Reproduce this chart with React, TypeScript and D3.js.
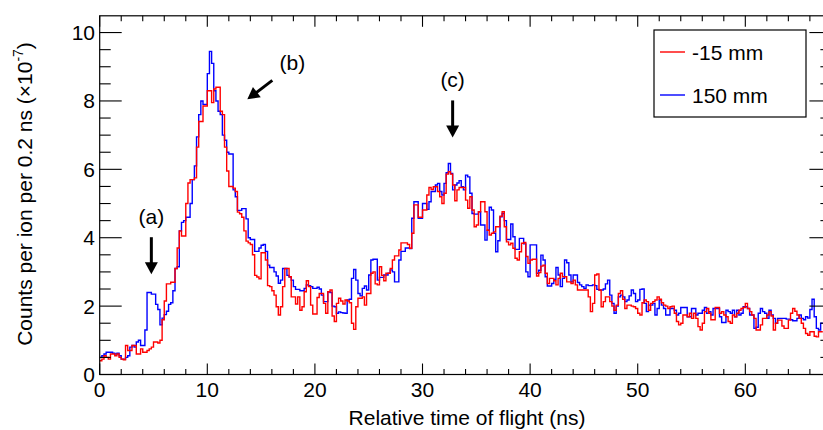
import React from "react";
import * as d3 from "d3";

// ---- data (0.2 ns bins starting at 0 ns) ----
const BIN_WIDTH = 0.2;

const seriesNames = ["-15 mm", "150 mm"];
const seriesColors = ["#ff0000", "#0000ff"];

// 150 mm (blue)
const counts150 = [
  0.5, 0.55, 0.6, 0.65, 0.65, 0.65, 0.62, 0.6, 0.62, 0.55,
  0.45, 0.45, 0.5, 0.55, 0.8, 0.85, 0.8, 0.95, 1.0, 0.85,
  0.85, 1.3, 2.4, 2.4, 2.35, 2.35, 2.05, 1.9, 1.45, 1.65,
  1.75, 1.85, 2.05, 2.1, 2.45, 3.1, 3.15, 4.2, 4.45, 4.5,
  4.6, 4.6, 5.0, 5.7, 6.1, 6.95, 7.6, 8.0, 7.9, 7.9,
  8.8, 9.45, 9.1, 8.3, 8.0, 7.7, 7.6, 7.0, 6.85, 6.5,
  6.45, 6.45, 5.4, 5.2, 4.8, 4.8, 4.85, 4.85, 4.55, 4.0,
  3.95, 3.95, 3.6, 3.6, 3.7, 3.78, 3.8, 3.6, 3.2, 3.13,
  3.13, 3.0, 2.88, 2.67, 2.76, 3.1, 3.1, 2.9, 2.85, 2.76,
  2.57, 2.49, 2.49, 2.45, 2.45, 2.52, 2.62, 2.6, 2.57, 2.52,
  2.52, 2.55, 2.5, 2.32, 2.13, 2.13, 2.42, 2.4, 2.0, 1.98,
  1.79, 1.83, 1.81, 1.8, 1.79, 2.18, 2.2, 2.81, 3.07, 2.76,
  2.37, 2.3, 2.52, 2.59, 2.47, 2.91, 3.35, 3.37, 3.37, 2.76,
  2.84, 2.84, 2.91, 2.91, 2.96, 3.06, 3.0, 2.71, 2.71, 3.35,
  3.6, 3.6, 3.7, 3.7, 3.68, 4.57, 5.05, 5.05, 4.57, 4.57,
  5.0, 5.0, 4.83, 5.05, 5.35, 5.35, 5.54, 5.59, 5.35, 5.25,
  5.59, 5.9, 6.17, 5.88, 5.4, 5.54, 5.6, 5.67, 5.49, 5.4,
  5.83, 5.78, 5.3, 4.71, 4.69, 4.69, 4.76, 4.37, 4.37, 3.93,
  4.22, 4.89, 4.81, 4.13, 3.59, 3.91, 4.61, 4.71, 4.5, 3.95,
  3.95, 4.4, 4.03, 3.66, 3.66, 3.98, 3.98, 3.82, 3.0, 2.86,
  3.79, 3.79, 3.79, 2.96, 3.05, 3.49, 3.35, 2.86, 2.59, 2.59,
  2.66, 2.78, 3.13, 2.91, 2.57, 2.81, 3.35, 3.27, 2.91, 2.71,
  2.91, 2.91, 2.69, 2.62, 2.57, 2.52, 2.62, 2.6, 2.6, 2.62,
  2.6, 2.49, 2.47, 2.47, 2.5, 2.65, 2.76, 2.32, 2.08, 1.79,
  2.0, 2.27, 2.32, 2.27, 2.13, 2.18, 2.3, 2.47, 2.37, 2.13,
  2.18, 2.49, 2.5, 2.08, 1.84, 2.03, 2.03, 2.08, 1.74, 1.93,
  2.18, 2.03, 1.93, 1.74, 1.74, 1.93, 1.93, 1.88, 1.74, 1.79,
  1.96, 1.96, 1.96, 1.69, 1.69, 1.93, 1.93, 1.74, 1.79, 1.79,
  1.88, 1.96, 1.79, 1.84, 1.74, 1.93, 1.93, 1.93, 1.69, 1.52,
  1.52, 1.88, 1.84, 1.79, 1.88, 1.69, 1.88, 1.74, 1.79, 1.98,
  1.98, 1.93, 1.74, 1.74, 1.35, 1.38, 1.79, 1.93, 1.84, 1.79,
  1.64, 1.88, 1.74, 1.64, 1.5, 1.64, 1.64, 1.64, 1.64, 1.62,
  1.62, 1.6, 1.57, 1.57, 1.64, 1.74, 1.64, 1.6, 1.69, 1.65,
  1.9, 2.2, 1.69, 1.35, 1.3, 1.5,
];

// -15 mm (red)
const countsMinus15 = [
  0.4, 0.45, 0.55, 0.5, 0.45, 0.6, 0.6, 0.55, 0.6, 0.5,
  0.45, 0.43, 0.85, 0.7, 0.7, 0.85, 0.85, 0.6, 0.6, 0.75,
  0.65, 0.65, 0.7, 0.75, 0.8, 0.95, 0.95, 0.92, 1.0, 1.6,
  2.15, 2.65, 2.65, 2.7, 2.7, 3.1, 3.7, 4.2, 4.05, 4.05,
  5.0, 5.6, 5.7, 5.7, 5.75, 6.65, 7.4, 7.4, 7.85, 7.85,
  8.3, 8.3, 7.95, 8.35, 8.4, 8.4, 7.7, 7.6, 6.65, 5.95,
  5.5, 5.5, 5.45, 5.35, 4.75, 4.7, 4.6, 4.2, 3.9, 3.85,
  3.8, 3.5, 2.9, 2.85, 2.8, 3.56, 3.56, 3.35, 2.6, 2.57,
  2.45, 2.32, 1.98, 1.74, 1.98, 2.57, 3.1, 3.1, 2.86, 2.27,
  2.27, 2.06, 2.27, 1.88, 1.98, 2.42, 2.74, 2.57, 2.03, 1.77,
  1.77, 2.25, 2.37, 2.37, 2.08, 1.79, 2.42, 2.47, 1.71, 1.55,
  2.08, 2.23, 2.15, 2.06, 2.18, 2.15, 2.1, 1.5, 1.32, 1.98,
  2.23, 2.23, 2.27, 2.03, 2.37, 2.37, 2.96, 3.0, 2.65, 2.62,
  3.15, 2.9, 2.74, 2.96, 2.96, 3.1, 3.35, 3.47, 3.47, 3.64,
  3.85, 3.85, 3.85, 3.8, 3.69, 4.13, 4.96, 4.96, 4.6, 4.6,
  4.81, 4.81, 5.25, 5.47, 5.41, 5.49, 5.49, 5.35, 5.2, 5.0,
  5.3, 5.86, 5.93, 5.86, 5.54, 5.08, 5.4, 5.47, 5.47, 5.47,
  5.1, 4.86, 5.2, 4.81, 4.32, 4.37, 4.76, 5.05, 5.05, 4.76,
  4.22, 4.08, 4.13, 4.17, 4.32, 4.32, 4.63, 4.76, 4.32, 3.88,
  3.79, 3.84, 3.69, 3.4, 3.35, 3.59, 3.84, 3.86, 3.45, 3.25,
  3.35, 3.37, 3.37, 2.88, 2.98, 3.17, 3.2, 2.96, 2.66, 2.81,
  2.81, 2.74, 2.62, 2.81, 2.96, 2.86, 2.86, 2.71, 2.71, 2.66,
  2.76, 2.62, 2.47, 2.47, 2.47, 2.47, 2.47, 2.27, 1.84, 2.08,
  2.91, 2.94, 2.47, 1.98, 2.13, 2.27, 2.27, 2.13, 2.0, 1.88,
  2.03, 2.37, 2.45, 2.2, 1.93, 2.03, 2.03, 2.0, 1.98, 1.93,
  1.79, 1.74, 2.1, 2.18, 2.13, 1.88, 2.08, 2.13, 2.18, 2.27,
  2.2, 2.1, 2.03, 2.0, 1.93, 1.98, 2.0, 1.79, 1.55, 1.45,
  1.5, 1.74, 1.74, 1.69, 1.79, 1.64, 1.79, 1.64, 1.4, 1.3,
  1.5, 1.84, 1.93, 1.79, 1.6, 1.6, 1.96, 1.96, 1.79, 1.84,
  1.74, 1.69, 1.55, 1.5, 1.74, 1.69, 1.79, 1.88, 1.93, 1.96,
  2.08, 1.93, 1.84, 1.74, 1.64, 1.3, 1.3, 1.45, 1.64, 1.64,
  1.74, 1.84, 1.71, 1.3, 1.5, 1.59, 1.59, 1.42, 1.35, 1.35,
  1.59, 1.79, 1.93, 1.85, 1.74, 1.64, 1.5, 1.35, 1.2, 1.15,
  1.25, 1.25, 1.12, 1.1, 1.25, 1.25,
];

const xMajorTicks = [0, 10, 20, 30, 40, 50, 60];
const yMajorTicks = [0, 2, 4, 6, 8, 10];

const xTitle = "Relative time of flight (ns)";
const yTitleMain = "Counts per ion per 0.2 ns (\u00D710";
const yTitleExp = "-7";

const annotations = [
  { label: "(a)", t: 4.8, v: 4.6, dir: "down" },
  { label: "(b)", t: 17.9, v: 9.1, dir: "diag" },
  { label: "(c)", t: 32.8, v: 8.6, dir: "down" },
];

// ---- layout ----
const W = 823;
const H = 430;
const left = 99.7;
const right = 831.4;
const bottom = 374.5;
const top = 15.8;
const FONT = "'Liberation Sans', Arial, Helvetica, sans-serif";

export default function App() {
  const x = d3.scaleLinear().domain([0, 68]).range([left, right]);
  const y = d3.scaleLinear().domain([0, 10.49]).range([bottom, top]);

  const stepLine = (vals: number[]) => {
    const pts: [number, number][] = vals.map((v, i) => [i * BIN_WIDTH, v]);
    pts.push([vals.length * BIN_WIDTH, vals[vals.length - 1]]);
    return d3
      .line<[number, number]>()
      .x((d) => x(d[0]))
      .y((d) => y(d[1]))
      .curve(d3.curveStepAfter)(pts) as string;
  };

  const xMinor = d3.range(0, 68.01, 2);
  const yMinor = d3.range(0, 10.5, 0.5);

  const majLx = 11;
  const minLx = 5.5;
  const majLy = 22;
  const minLy = 11;

  const arrowHead = (x0: number, y0: number, x1: number, y1: number) => {
    const ang = Math.atan2(y1 - y0, x1 - x0);
    const len = 12;
    const half = 6.5;
    const bx = x1 - len * Math.cos(ang);
    const by = y1 - len * Math.sin(ang);
    const px = -Math.sin(ang) * half;
    const py = Math.cos(ang) * half;
    return `M${x1},${y1}L${bx + px},${by + py}L${bx - px},${by - py}Z`;
  };

  return (
    <svg
      width={W}
      height={H}
      style={{ position: "absolute", left: 0, top: 0, background: "#fff" }}
      fontFamily={FONT}
    >
      <rect x={0} y={0} width={W} height={H} fill="#fff" />
      <defs>
        <clipPath id="plotclip">
          <rect x={left} y={top} width={right - left} height={bottom - top} />
        </clipPath>
      </defs>

      {/* histograms */}
      <g clipPath="url(#plotclip)" fill="none" strokeWidth={1.4}>
        <path d={stepLine(counts150)} stroke={seriesColors[1]} />
        <path d={stepLine(countsMinus15)} stroke={seriesColors[0]} />
      </g>

      {/* frame */}
      <rect
        x={left}
        y={top}
        width={right - left}
        height={bottom - top}
        fill="none"
        stroke="#000"
        strokeWidth={1.2}
      />

      {/* x ticks (bottom and top) */}
      <g stroke="#000" strokeWidth={1.1}>
        {xMinor.map((t) => {
          const major = t % 10 === 0;
          const L = major ? majLx : minLx;
          return (
            <g key={"xt" + t}>
              <line x1={x(t)} x2={x(t)} y1={bottom} y2={bottom - L} />
              <line x1={x(t)} x2={x(t)} y1={top} y2={top + L} />
            </g>
          );
        })}
        {yMinor.map((v) => {
          const major = Math.abs(v % 2) < 1e-9;
          const L = major ? majLy : minLy;
          return (
            <g key={"yt" + v}>
              <line x1={left} x2={left + L} y1={y(v)} y2={y(v)} />
              <line x1={right} x2={right - L} y1={y(v)} y2={y(v)} />
            </g>
          );
        })}
      </g>

      {/* tick labels */}
      <g fontSize={21} fill="#000">
        {xMajorTicks.map((t) => (
          <text key={"xl" + t} x={x(t)} y={397} textAnchor="middle">
            {t}
          </text>
        ))}
        {yMajorTicks.map((v) => (
          <text key={"yl" + v} x={95} y={y(v) + 7.5} textAnchor="end">
            {v}
          </text>
        ))}
      </g>

      {/* axis titles */}
      <text x={467} y={425} fontSize={21} textAnchor="middle" fill="#000">
        {xTitle}
      </text>
      <text
        transform={`translate(32,194) rotate(-90)`}
        fontSize={21}
        textAnchor="middle"
        fill="#000"
      >
        {yTitleMain}
        <tspan fontSize={14} dy={-9}>
          {yTitleExp}
        </tspan>
        <tspan dy={9}>)</tspan>
      </text>

      {/* legend */}
      <rect x={654} y={30} width={152} height={87} fill="#fff" stroke="#000" strokeWidth={1.2} />
      {seriesNames.map((n, i) => {
        const ly = i === 0 ? 52 : 95;
        return (
          <g key={n}>
            <line x1={660} x2={685} y1={ly} y2={ly} stroke={seriesColors[i]} strokeWidth={1.4} />
            <text x={692} y={ly + 8} fontSize={21} fill="#000">
              {n}
            </text>
          </g>
        );
      })}

      {/* annotations */}
      {annotations.map((a) => {
        const cx = x(a.t);
        const cy = y(a.v);
        if (a.dir === "down") {
          const x0 = cx;
          const y0 = cy + 20;
          const y1 = cy + 57;
          return (
            <g key={a.label}>
              <text x={cx} y={cy + 7} fontSize={21} textAnchor="middle" fill="#000">
                {a.label}
              </text>
              <line x1={x0} x2={x0} y1={y0} y2={y1 - 10} stroke="#000" strokeWidth={3} />
              <path d={arrowHead(x0, y0, x0, y1)} fill="#000" />
            </g>
          );
        }
        const x0 = cx - 20;
        const y0 = cy + 17;
        const x1 = cx - 45;
        const y1 = cy + 36;
        return (
          <g key={a.label}>
            <text x={cx} y={cy + 7} fontSize={21} textAnchor="middle" fill="#000">
              {a.label}
            </text>
            <line x1={x0} y1={y0} x2={x1 + 8} y2={y1 - 6} stroke="#000" strokeWidth={3} />
            <path d={arrowHead(x0, y0, x1, y1)} fill="#000" />
          </g>
        );
      })}
    </svg>
  );
}
